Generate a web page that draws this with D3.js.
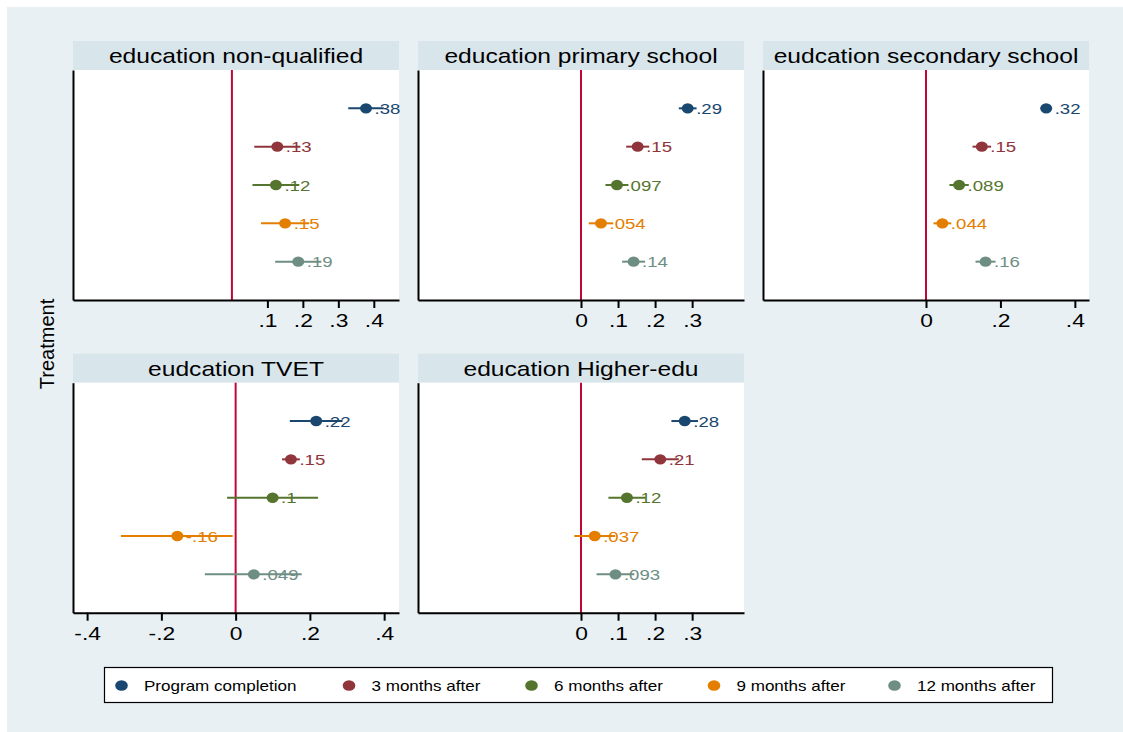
<!DOCTYPE html>
<html>
<head>
<meta charset="utf-8">
<script src="https://cdn.jsdelivr.net/npm/d3@7"></script>
<style>
  html, body { margin: 0; padding: 0; background: #ffffff; }
  svg { display: block; font-family: "Liberation Sans", Arial, sans-serif; }
</style>
</head>
<body>
<svg id="chart" width="1123" height="732"></svg>
<script>
// Series (time since treatment) and their colours
const seriesNames = ["Program completion", "3 months after", "6 months after", "9 months after", "12 months after"];
const seriesColors = ["#1a476f", "#90353b", "#55752f", "#e37e00", "#6e8e84"];

// Panel titles
const panelTitles = [
  "education non-qualified",
  "education primary school",
  "eudcation secondary school",
  "eudcation TVET",
  "education Higher-edu"
];

// Point estimates per panel (one per series)
const coefNonQualified = [0.378, 0.128, 0.124, 0.150, 0.187];
const coefPrimary      = [0.288, 0.153, 0.097, 0.054, 0.142];
const coefSecondary    = [0.323, 0.150, 0.089, 0.044, 0.160];
const coefTVET         = [0.217, 0.149, 0.0996, -0.157, 0.049];
const coefHigher       = [0.280, 0.214, 0.124, 0.037, 0.093];

// Confidence interval bounds
const loNonQualified = [0.328, 0.063, 0.058, 0.082, 0.122];
const hiNonQualified = [0.428, 0.193, 0.190, 0.218, 0.252];
const loPrimary      = [0.264, 0.122, 0.066, 0.021, 0.111];
const hiPrimary      = [0.312, 0.184, 0.128, 0.087, 0.173];
const loSecondary    = [0.315, 0.125, 0.063, 0.020, 0.133];
const hiSecondary    = [0.331, 0.175, 0.115, 0.068, 0.187];
const loTVET         = [0.146, 0.125, -0.023, -0.309, -0.083];
const hiTVET         = [0.288, 0.173, 0.222, -0.008, 0.178];
const loHigher       = [0.244, 0.164, 0.074, -0.018, 0.042];
const hiHigher       = [0.316, 0.264, 0.174, 0.092, 0.144];

// Axis ticks per panel
const ticksNonQualified = [0.1, 0.2, 0.3, 0.4];
const ticksPrimary      = [0, 0.1, 0.2, 0.3];
const ticksSecondary    = [0, 0.2, 0.4];
const ticksTVET         = [-0.4, -0.2, 0, 0.2, 0.4];
const ticksHigher       = [0, 0.1, 0.2, 0.3];

// Horizontal extent of each panel's x axis
const domainNonQualified = [-0.448, 0.471];
const domainPrimary      = [-0.44, 0.44];
const domainSecondary    = [-0.438, 0.438];
const domainTVET         = [-0.438, 0.44];
const domainHigher       = [-0.44, 0.44];

const panels = [
  { title: panelTitles[0], coef: coefNonQualified, lo: loNonQualified, hi: hiNonQualified, ticks: ticksNonQualified, domain: domainNonQualified, col: 0, row: 0 },
  { title: panelTitles[1], coef: coefPrimary,      lo: loPrimary,      hi: hiPrimary,      ticks: ticksPrimary,      domain: domainPrimary,      col: 1, row: 0 },
  { title: panelTitles[2], coef: coefSecondary,    lo: loSecondary,    hi: hiSecondary,    ticks: ticksSecondary,    domain: domainSecondary,    col: 2, row: 0 },
  { title: panelTitles[3], coef: coefTVET,         lo: loTVET,         hi: hiTVET,         ticks: ticksTVET,         domain: domainTVET,         col: 0, row: 1 },
  { title: panelTitles[4], coef: coefHigher,       lo: loHigher,       hi: hiHigher,       ticks: ticksHigher,       domain: domainHigher,       col: 1, row: 1 }
];

// ---- layout ----
const SX = 1.2;                      // horizontal stretch applied to text
const colLeft = [73, 418, 763];
const panelW = 326;
const rowTop = [70, 382.7];
const plotH = 230;
const headerH = 29;

// Stata-style number labels: ".38", "-.16", "0"
const g2 = d3.format(".2~g");
function stataNum(v) {
  let s = g2(v).replace("\u2212", "-");
  s = s.replace(/^(-?)0\./, "$1.");
  return s;
}

const svg = d3.select("#chart");

// graph region background
svg.append("rect")
  .attr("x", 7).attr("y", 7).attr("width", 1123 - 7).attr("height", 732 - 7)
  .attr("fill", "#e8f0f3");

function stretched(sel, x, y) {
  return sel.attr("transform", `translate(${x},${y}) scale(${SX},1)`);
}

panels.forEach(p => {
  const left = colLeft[p.col];
  const top = rowTop[p.row];
  const x = d3.scaleLinear().domain(p.domain).range([left, left + panelW]);
  const y = d3.scaleLinear().domain([0, seriesNames.length + 1]).range([top, top + plotH]);

  const g = svg.append("g");

  // header strip
  g.append("rect")
    .attr("x", left).attr("y", top - headerH)
    .attr("width", panelW).attr("height", headerH)
    .attr("fill", "#d8e5eb");
  stretched(g.append("text"), left + panelW / 2, top - headerH / 2 + 7.3)
    .attr("text-anchor", "middle")
    .attr("font-size", 20.5)
    .attr("fill", "#000")
    .text(p.title);

  // plot region
  g.append("rect")
    .attr("x", left).attr("y", top)
    .attr("width", panelW).attr("height", plotH)
    .attr("fill", "#ffffff");

  // reference line at zero
  g.append("line")
    .attr("x1", x(0)).attr("x2", x(0))
    .attr("y1", top).attr("y2", top + plotH)
    .attr("stroke", "#c10534").attr("stroke-width", 2);

  // x axis
  const xAxis = d3.axisBottom(x)
    .tickValues(p.ticks)
    .tickFormat(stataNum)
    .tickSize(8)
    .tickSizeOuter(0)
    .tickPadding(6);
  const ax = g.append("g")
    .attr("transform", `translate(0,${top + plotH})`)
    .call(xAxis);
  ax.select(".domain").attr("stroke", "#000").attr("stroke-width", 2);
  ax.selectAll(".tick line").attr("stroke", "#000").attr("stroke-width", 2);
  ax.selectAll(".tick text")
    .attr("font-size", 19)
    .attr("font-family", "Liberation Sans, Arial, sans-serif")
    .attr("fill", "#000")
    .attr("transform", `scale(${SX},1)`);

  // y axis (no labels)
  const yAxis = d3.axisLeft(y).tickValues([]).tickSizeOuter(0);
  const ay = g.append("g")
    .attr("transform", `translate(${left},0)`)
    .call(yAxis);
  ay.select(".domain").attr("stroke", "#000").attr("stroke-width", 2);

  // confidence intervals, markers and value labels
  seriesNames.forEach((name, i) => {
    const cy = y(i + 1);
    const color = seriesColors[i];
    g.append("line")
      .attr("x1", x(p.lo[i])).attr("x2", x(p.hi[i]))
      .attr("y1", cy).attr("y2", cy)
      .attr("stroke", color).attr("stroke-width", 2);
    g.append("ellipse")
      .attr("cx", x(p.coef[i])).attr("cy", cy)
      .attr("rx", 6).attr("ry", 5.2)
      .attr("fill", color);
    stretched(g.append("text"), x(p.coef[i]) + 8.5, cy + 5.6)
      .attr("font-size", 15.5)
      .attr("fill", color)
      .text(stataNum(p.coef[i]));
  });
});

// y axis title
svg.append("text")
  .attr("transform", `translate(54,344) rotate(-90)`)
  .attr("text-anchor", "middle")
  .attr("font-size", 20)
  .attr("fill", "#000")
  .text("Treatment");

// legend
const legendX = [121.5, 349, 531.5, 714, 894.5];
const lg = svg.append("g");
lg.append("rect")
  .attr("x", 104.5).attr("y", 667.5).attr("width", 948).attr("height", 35)
  .attr("fill", "#ffffff").attr("stroke", "#000").attr("stroke-width", 1.2);
seriesNames.forEach((name, i) => {
  lg.append("ellipse")
    .attr("cx", legendX[i]).attr("cy", 685.5)
    .attr("rx", 6.3).attr("ry", 5.3)
    .attr("fill", seriesColors[i]);
  stretched(lg.append("text"), legendX[i] + 22.5, 690.7)
    .attr("font-size", 14.2)
    .attr("fill", "#000")
    .text(name);
});
</script>
</body>
</html>
